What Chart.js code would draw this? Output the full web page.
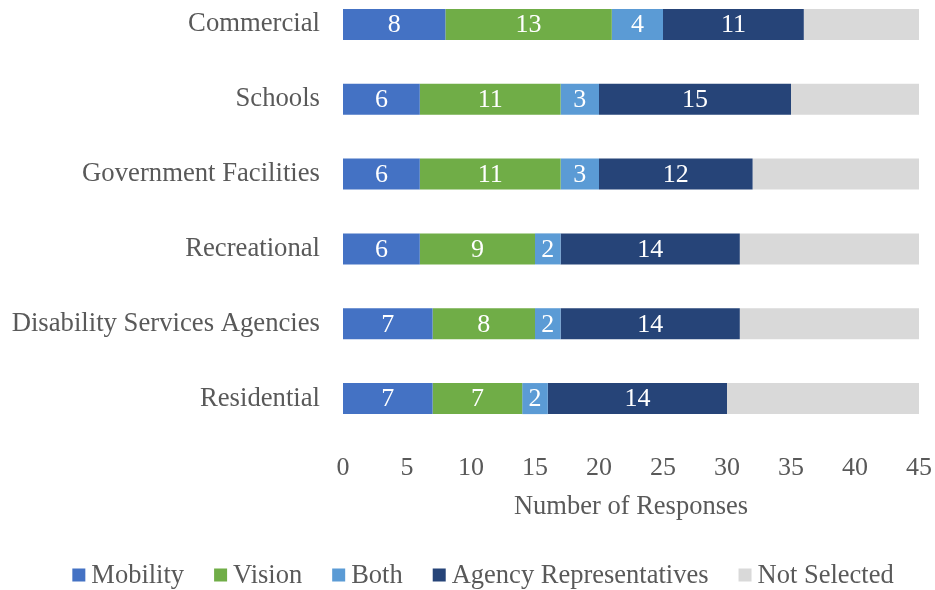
<!DOCTYPE html>
<html>
<head>
<meta charset="utf-8">
<script src="https://cdn.jsdelivr.net/npm/chart.js@4/dist/chart.umd.min.js"></script>
<style>
  html, body { margin: 0; padding: 0; background: #fff; overflow: hidden; }
  body { width: 935px; height: 590px; position: relative; }
  #wrap { position: absolute; left: 0; top: -13px; width: 935px; height: 603px; }
</style>
</head>
<body>
<div id="wrap"><canvas id="chart"></canvas></div>
<script>
  // data
  const categories = ['Commercial', 'Schools', 'Government Facilities', 'Recreational', 'Disability Services Agencies', 'Residential'];
  const mobility = [8, 6, 6, 6, 7, 7];
  const vision = [13, 11, 11, 9, 8, 7];
  const both = [4, 3, 3, 2, 2, 2];
  const agencyReps = [11, 15, 12, 14, 14, 14];
  const notSelected = [9, 10, 13, 14, 14, 15];
  const xTicks = [0, 5, 10, 15, 20, 25, 30, 35, 40, 45];

  const FONT = '"Liberation Serif", "Times New Roman", serif';
  const GREY = '#595959';

  // value labels in the middle of each segment (not on "Not Selected")
  const segmentLabels = {
    id: 'segmentLabels',
    afterDatasetsDraw(chart) {
      const ctx = chart.ctx;
      ctx.save();
      ctx.font = '26px ' + FONT;
      ctx.fillStyle = '#fff';
      ctx.textAlign = 'center';
      ctx.textBaseline = 'middle';
      chart.data.datasets.forEach(function (ds, i) {
        if (ds.label === 'Not Selected') return;
        const meta = chart.getDatasetMeta(i);
        meta.data.forEach(function (bar, j) {
          const p = bar.getProps(['x', 'y', 'base'], true);
          ctx.fillText(String(ds.data[j]), (p.x + p.base) / 2, p.y + 1);
        });
      });
      ctx.restore();
    },
  };

  // one-row legend like the spreadsheet one: small square, tight gap, text
  const rowLegend = {
    id: 'rowLegend',
    afterDraw(chart, args, opts) {
      const ctx = chart.ctx;
      ctx.save();
      ctx.font = opts.size + 'px ' + FONT;
      const items = chart.data.datasets.map(function (ds) {
        return { text: ds.label, color: ds.backgroundColor, w: ctx.measureText(ds.label).width };
      });
      let total = 0;
      items.forEach(function (it) { total += opts.box + opts.gap + it.w; });
      total += opts.spacing * (items.length - 1);
      let x = opts.centerX - total / 2;
      const y = chart.height - opts.fromBottom;
      ctx.textBaseline = 'middle';
      ctx.textAlign = 'left';
      items.forEach(function (it) {
        ctx.fillStyle = it.color;
        ctx.fillRect(x, y - opts.box / 2, opts.box, opts.box);
        x += opts.box + opts.gap;
        ctx.fillStyle = GREY;
        ctx.fillText(it.text, x, y + 1);
        x += it.w + opts.spacing;
      });
      ctx.restore();
    },
  };

  function series(label, data, color) {
    return {
      label: label,
      data: data,
      backgroundColor: color,
      borderWidth: 0,
      barPercentage: 0.415,
      categoryPercentage: 1,
    };
  }

  new Chart(document.getElementById('chart'), {
    type: 'bar',
    data: {
      labels: categories,
      datasets: [
        series('Mobility', mobility, '#4472C4'),
        series('Vision', vision, '#70AD47'),
        series('Both', both, '#5B9BD5'),
        series('Agency Representatives', agencyReps, '#264478'),
        series('Not Selected', notSelected, '#D9D9D9'),
      ],
    },
    plugins: [segmentLabels, rowLegend],
    options: {
      indexAxis: 'y',
      responsive: true,
      maintainAspectRatio: false,
      animation: false,
      layout: { padding: { left: 0, right: 16, top: 0, bottom: 54 } },
      plugins: {
        tooltip: { enabled: false },
        legend: { display: false },
        rowLegend: { size: 26.5, box: 13, gap: 6, spacing: 30, centerX: 483, fromBottom: 15 },
      },
      scales: {
        x: {
          stacked: true,
          min: 0,
          max: 45,
          afterBuildTicks: function (scale) {
            scale.ticks = xTicks.map(function (v) { return { value: v }; });
          },
          afterFit: function (scale) {
            scale.height = 100;
            scale.paddingLeft = 0;
            scale.paddingRight = 0;
          },
          grid: { display: false, drawTicks: false },
          border: { display: false },
          ticks: { padding: 17, color: GREY, font: { family: FONT, size: 26 } },
          title: {
            display: true,
            text: 'Number of Responses',
            color: GREY,
            font: { family: FONT, size: 26.5 },
            padding: { top: 8, bottom: 13 },
          },
        },
        y: {
          stacked: true,
          afterFit: function (scale) {
            scale.width = 343;
            scale.paddingTop = 0;
            scale.paddingBottom = 0;
          },
          grid: { display: false, drawTicks: false },
          border: { display: false },
          ticks: { padding: 23, color: GREY, font: { family: FONT, size: 26.7 } },
        },
      },
    },
  });
</script>
</body>
</html>
